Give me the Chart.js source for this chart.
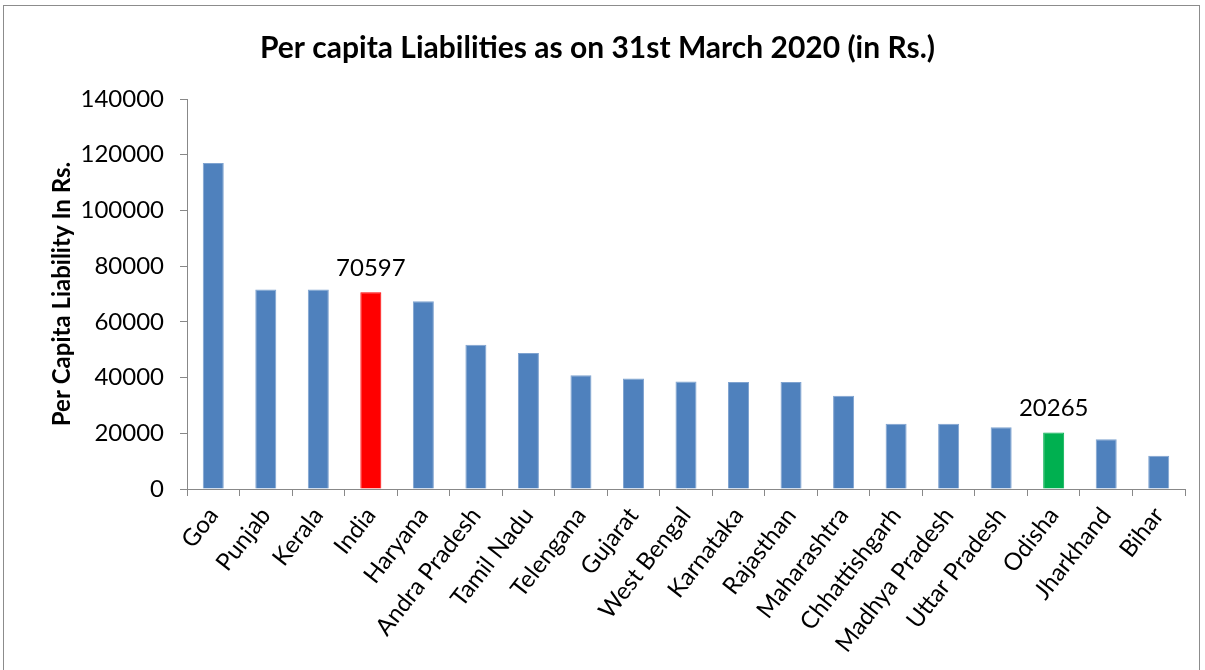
<!DOCTYPE html>
<html>
<head>
<meta charset="utf-8">
<script src="https://cdn.jsdelivr.net/npm/chart.js@4.4.1/dist/chart.umd.min.js"></script>
<style>
  html, body { margin: 0; padding: 0; background: #fff; }
  #wrap { position: absolute; left: 3px; top: 5px; width: 1197px; height: 670px; border: 1px solid #8c8c8c; box-sizing: border-box; border-bottom: none; }
  #c { position: absolute; left: 0; top: 0; }
</style>
</head>
<body>
<div id="wrap"></div>
<canvas id="c" width="1205" height="670"></canvas>
<script>
var states = ['Goa', 'Punjab', 'Kerala', 'India', 'Haryana', 'Andra Pradesh', 'Tamil Nadu',
  'Telengana', 'Gujarat', 'West Bengal', 'Karnataka', 'Rajasthan', 'Maharashtra',
  'Chhattishgarh', 'Madhya Pradesh', 'Uttar Pradesh', 'Odisha', 'Jharkhand', 'Bihar'];
var liability = [117000, 71600, 71600, 70597, 67400, 51800, 48800, 40800, 39700, 38600,
  38400, 38400, 33500, 23400, 23400, 22200, 20265, 17900, 11900];
var yTicks = [0, 20000, 40000, 60000, 80000, 100000, 120000, 140000];
var labelled = ['India', 'Odisha'];
var highlight = { 'India': '#FF0000', 'Odisha': '#00B050' };

var FONT = 'Lato, "Open Sans", sans-serif';

var barColors = states.map(function (s) { return highlight[s] || '#4F81BD'; });

// draw value labels only for the highlighted bars
var valueLabels = {
  id: 'valueLabels',
  afterDatasetsDraw: function (chart) {
    var ctx = chart.ctx;
    var meta = chart.getDatasetMeta(0);
    ctx.save();
    ctx.font = '24px ' + FONT;
    ctx.fillStyle = '#000';
    ctx.textAlign = 'center';
    ctx.textBaseline = 'bottom';
    meta.data.forEach(function (bar, i) {
      if (labelled.indexOf(states[i]) < 0) return;
      ctx.fillText(String(liability[i]), bar.x, bar.y - 12);
    });
    ctx.restore();
  }
};

new Chart(document.getElementById('c').getContext('2d'), {
  type: 'bar',
  plugins: [valueLabels],
  data: {
    labels: states,
    datasets: [{
      data: liability,
      backgroundColor: barColors,
      borderColor: barColors.map(function (c) { return c === '#4F81BD' ? '#7fa3d0' : c; }),
      borderWidth: { top: 1, left: 1, right: 1, bottom: 0 },
      categoryPercentage: 1,
      barPercentage: 0.4
    }]
  },
  options: {
    responsive: false,
    animation: false,
    layout: { padding: { left: 10, right: 20, top: 0, bottom: 0 } },
    plugins: {
      legend: { display: false },
      tooltip: { enabled: false },
      title: {
        display: true,
        text: 'Per capita Liabilities as on 31st March 2020 (in Rs.)',
        color: '#000',
        font: { family: FONT, size: 30, weight: 'bold' },
        padding: { top: 30, bottom: 33 }
      }
    },
    scales: {
      y: {
        min: 0,
        max: 140000,
        afterBuildTicks: function (axis) {
          axis.ticks = yTicks.map(function (v) { return { value: v }; });
        },
        afterFit: function (axis) { axis.width = 177; },
        border: { display: true, color: '#888', width: 1 },
        grid: { display: true, drawOnChartArea: false, drawTicks: true, tickLength: 7, color: '#888' },
        ticks: {
          color: '#000',
          padding: 16,
          font: { family: FONT, size: 24 },
          callback: function (v) { return String(v); }
        },
        title: {
          display: true,
          text: 'Per Capita Liability In Rs.',
          color: '#000',
          font: { family: FONT, size: 24, weight: 'bold' },
          padding: { top: 38, bottom: 0 }
        }
      },
      x: {
        afterFit: function (axis) { axis.height = 181; },
        border: { display: true, color: '#888', width: 1 },
        grid: { display: true, offset: true, drawOnChartArea: false, drawTicks: true, tickLength: 7, color: '#888' },
        ticks: {
          color: '#000',
          autoSkip: false,
          maxRotation: 52,
          minRotation: 52,
          padding: 6,
          font: { family: FONT, size: 24 }
        }
      }
    }
  }
});
</script>
</body>
</html>
